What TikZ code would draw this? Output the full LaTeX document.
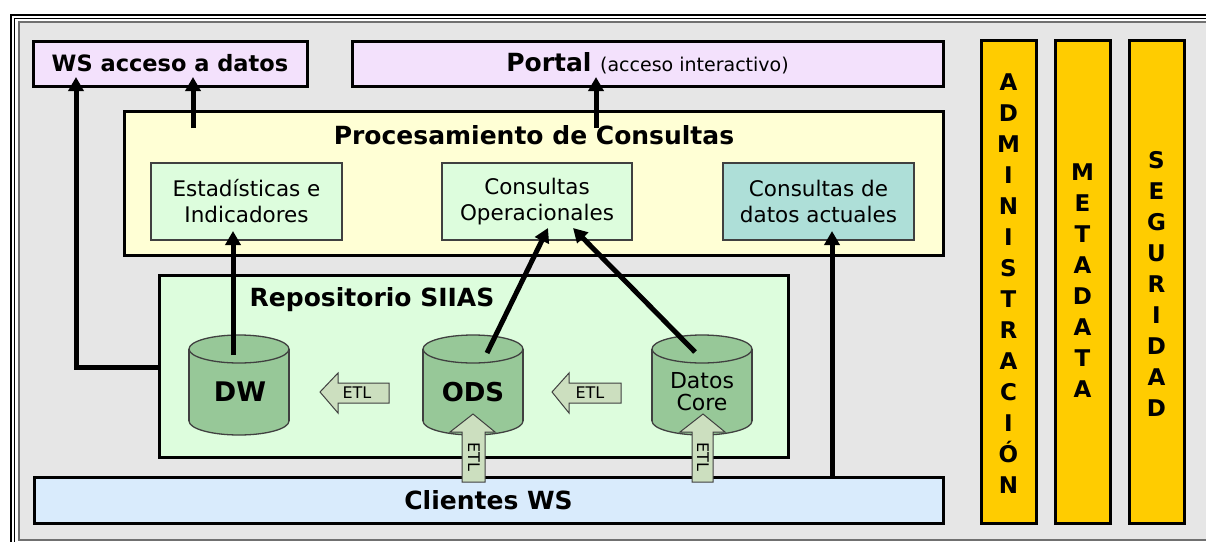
\documentclass[tikz,border=0pt]{standalone}
\usepackage{fontspec}
\setmainfont{DejaVu Sans}
\usetikzlibrary{arrows.meta,calc}
\definecolor{bggray}{HTML}{E6E6E6}
\definecolor{framegray}{HTML}{707070}
\definecolor{lav}{HTML}{F3E1FC}
\definecolor{procy}{HTML}{FFFFD5}
\definecolor{lgreen}{HTML}{DDFDDD}
\definecolor{teal}{HTML}{AEDFD8}
\definecolor{cylg}{HTML}{97C898}
\definecolor{etlg}{HTML}{CCDFBF}
\definecolor{lblue}{HTML}{D9EBFC}
\definecolor{bary}{HTML}{FFCC00}
\definecolor{edgegray}{HTML}{404040}
\tikzset{
  bigbox/.style={draw=black, line width=3pt, inner sep=0pt},
  smallbox/.style={draw=edgegray, line width=1.3pt, inner sep=0pt, align=center,
    font=\fontsize{21.5}{26}\selectfont},
  conn/.style={line width=5pt, draw=black, -{Triangle[width=15pt,length=14pt]}},
  etlshape/.style={fill=etlg, draw=edgegray, line width=1pt},
  etltext/.style={font=\fontsize{16}{16}\selectfont, inner sep=0pt},
  cylfill/.style={fill=cylg},
  cyldraw/.style={draw=edgegray, line width=1.3pt},
  barbox/.style={draw=black, line width=3pt, fill=bary, inner sep=0pt},
  bartext/.style={font=\bfseries\fontsize{23}{31}\selectfont, align=center, inner sep=0pt},
  titletext/.style={font=\bfseries\fontsize{25}{30}\selectfont, inner sep=0pt}
}
\newcommand\mycyl[1]{%
  \fill[cylfill] (#1,421) ellipse [x radius=50, y radius=14];
  \draw[cyldraw] (#1,421) ellipse [x radius=50, y radius=14];
  \fill[cylfill] (#1-50,349) rectangle (#1+50,421);
  \draw[cyldraw] (#1-50,349) -- (#1-50,421);
  \draw[cyldraw] (#1+50,349) -- (#1+50,421);
  \fill[cylfill] (#1,349) ellipse [x radius=50, y radius=14];
  \draw[cyldraw] (#1,349) ellipse [x radius=50, y radius=14];
}
\begin{document}
\begin{tikzpicture}[x=1pt,y=-1pt]
\useasboundingbox (0,0) rectangle (1206,541);
\fill[white] (0,0) rectangle (1206,541);
% frame
\draw[black, line width=1.3pt] (11,15) rectangle (1230,560);
\draw[black, line width=1pt] (14.5,18.5) rectangle (1226,556);
\draw[framegray, line width=2pt, fill=bggray] (19,22) rectangle (1222,540);

% top boxes
\node[bigbox, fill=lav, minimum width=274pt, minimum height=45pt,
  font=\bfseries\fontsize{22.5}{27}\selectfont] (ws) at (170,63.5) {WS acceso a datos};
\node[bigbox, fill=lav, minimum width=591pt, minimum height=45pt] (portal) at (647.5,63.5)
  {\bfseries\fontsize{25}{30}\selectfont Portal \mdseries\fontsize{19}{22}\selectfont(acceso interactivo)};

% processing
\node[bigbox, fill=procy, minimum width=819pt, minimum height=144pt] (proc) at (534,183) {};
\node[titletext] (proctitle) at (534,135) {Procesamiento de Consultas};
\node[smallbox, fill=lgreen, minimum width=191pt, minimum height=77pt] (est) at (246.5,201.5)
  {Estadísticas e\\Indicadores};
\node[smallbox, fill=lgreen, minimum width=190pt, minimum height=77pt] (cop) at (537,201.5)
  {Consultas\\Operacionales};
\node[smallbox, fill=teal, minimum width=191pt, minimum height=77pt] (cda) at (818.5,201.5)
  {Consultas de\\datos actuales};

% repository
\node[bigbox, fill=lgreen, minimum width=629pt, minimum height=182pt] (repo) at (473.5,366) {};
\node[titletext] (repotitle) at (372,300) {Repositorio SIIAS};

% clients
\node[bigbox, fill=lblue, minimum width=909pt, minimum height=46pt,
  font=\bfseries\fontsize{25}{30}\selectfont] (cli) at (488.5,500) {Clientes WS};

% vertical bars
\node[barbox, minimum width=55pt, minimum height=483pt] (adm) at (1008.5,281.5) {};
\node[barbox, minimum width=55pt, minimum height=483pt] (meta) at (1082.5,281.5) {};
\node[barbox, minimum width=55pt, minimum height=483pt] (seg) at (1156.5,281.5) {};
\node[bartext] (admt) at (1008.5,283.5) {A\\D\\M\\I\\N\\I\\S\\T\\R\\A\\C\\I\\Ó\\N};
\node[bartext] (metat) at (1082.5,281) {M\\E\\T\\A\\D\\A\\T\\A};
\node[bartext] (segt) at (1156.5,284) {S\\E\\G\\U\\R\\I\\D\\A\\D};

% cylinders
\mycyl{239}
\mycyl{473}
\mycyl{702}
\node[font=\bfseries\fontsize{27}{30}\selectfont, inner sep=0pt] (dw) at (240,392) {DW};
\node[font=\bfseries\fontsize{26}{30}\selectfont, inner sep=0pt] (ods) at (473,392) {ODS};
\node[align=center, font=\fontsize{22}{22}\selectfont, inner sep=0pt] (core) at (702,392) {Datos\\Core};

% ETL arrows
\draw[etlshape] (320,392) -- (338,373) -- (338,383) -- (389,383) -- (389,403) -- (338,403) -- (338,413) -- cycle;
\node[etltext] (etl1) at (357,393) {ETL};
\draw[etlshape] (552,392) -- (569,373) -- (569,383) -- (621,383) -- (621,403) -- (569,403) -- (569,413) -- cycle;
\node[etltext] (etl2) at (590,393) {ETL};
\draw[etlshape] (473,414) -- (495,432) -- (485,432) -- (485,482) -- (462,482) -- (462,432) -- (450,432) -- cycle;
\node[etltext, rotate=-90] (etl3) at (474,457) {ETL};
\draw[etlshape] (703,414) -- (725,432) -- (713,432) -- (713,482) -- (692,482) -- (692,432) -- (680,432) -- cycle;
\node[etltext, rotate=-90] (etl4) at (703,457) {ETL};

% connector end points
\coordinate (dwtop) at (233,355);
\coordinate (esttip) at (233,231);
\coordinate (odstop) at (487,353);
\coordinate (coptipa) at (548,228);
\coordinate (coretop) at (695,352);
\coordinate (coptipb) at (573,228);
\coordinate (clitop) at (832,477);
\coordinate (cdatip) at (832,231);
\coordinate (repoleft) at (159,367);
\coordinate (wstipa) at (76,77);
\coordinate (procws) at (193,128);
\coordinate (wstipb) at (193,77);
\coordinate (procportal) at (596,128);
\coordinate (portaltip) at (596,77);

% connectors
\draw[conn] (dwtop) -- (esttip);
\draw[conn] (odstop) -- (coptipa);
\draw[conn] (coretop) -- (coptipb);
\draw[conn] (clitop) -- (cdatip);
\draw[conn] (repoleft) -| (wstipa);
\draw[conn] (procws) -- (wstipb);
\draw[conn] (procportal) -- (portaltip);
\end{tikzpicture}
\end{document}
